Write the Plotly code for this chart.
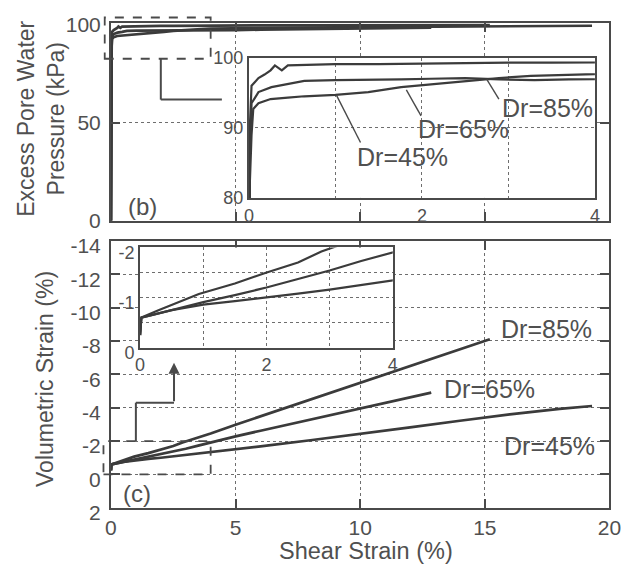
import plotly.graph_objects as go

# ---------------- data ----------------
series_names = ["Dr=45%", "Dr=65%", "Dr=85%"]

# (b) excess pore water pressure (kPa) against shear strain (%)
gamma_u_45 = [0, 0.003, 0.01, 0.03, 0.05, 0.11, 0.25, 0.45, 0.64, 1.0, 1.38, 1.76, 2.13,
              2.5, 2.89, 3.26, 3.63, 4.0, 5, 6, 8, 10, 12, 14, 16, 18, 19.3]
u_45 = [0, 55, 82, 89, 92.7, 93.5, 94.1, 94.3, 94.5, 94.7, 95.1, 95.8, 96.2,
        96.7, 97.1, 97.4, 97.6, 97.8, 98.0, 98.2, 98.4, 98.6, 98.8, 99.0, 99.1, 99.2, 99.3]

gamma_u_65 = [0, 0.003, 0.01, 0.03, 0.11, 0.26, 0.45, 0.64, 1.0, 1.4, 1.76, 2.1, 2.5,
              2.9, 3.3, 3.7, 4.0, 5, 6, 8, 10, 12.85]
u_65 = [0, 60, 86, 93.5, 95.1, 95.8, 96.2, 96.7, 96.8, 96.8, 96.9, 97.0, 97.1,
        96.9, 96.8, 96.9, 96.9, 97.1, 97.3, 97.6, 98.0, 98.3]

gamma_u_85 = [0, 0.003, 0.01, 0.03, 0.11, 0.18, 0.25, 0.3, 0.38, 0.45, 0.7, 1.0, 1.5,
              2.0, 2.5, 3.0, 3.5, 4.0, 5, 6, 8, 10, 12, 14, 15.2]
u_85 = [0, 65, 90, 96.0, 97.1, 97.6, 98.2, 98.9, 98.2, 98.9, 99.0, 99.1, 99.1,
        99.2, 99.2, 99.3, 99.3, 99.3, 99.4, 99.5, 99.5, 99.6, 99.6, 99.7, 99.7]

# (c) volumetric strain (%) against shear strain (%)
gamma_v_45 = [0, 0.02, 0.5, 1.0, 1.5, 2.0, 2.5, 3.0, 3.5, 4.0, 5, 6, 8, 10, 12, 14, 16, 18, 19.3]
ev_45 = [-0.25, -0.6, -0.75, -0.86, -0.93, -1.0, -1.08, -1.16, -1.25, -1.33, -1.5, -1.68,
         -2.05, -2.42, -2.82, -3.22, -3.6, -3.93, -4.1]

gamma_v_65 = [0, 0.02, 0.5, 1.0, 1.5, 2.0, 2.5, 3.0, 3.5, 4.0, 5, 6, 7, 8, 9, 10, 11, 12, 12.85]
ev_65 = [-0.25, -0.6, -0.75, -0.91, -1.05, -1.2, -1.37, -1.54, -1.73, -1.92, -2.28, -2.62,
         -2.95, -3.3, -3.63, -3.97, -4.3, -4.62, -4.9]

gamma_v_85 = [0, 0.02, 0.3, 0.6, 0.93, 1.5, 1.98, 2.5, 2.87, 3.5, 4, 5, 6, 7, 8, 9, 10, 11,
              12, 13, 14, 15.2]
ev_85 = [-0.25, -0.6, -0.75, -0.9, -1.07, -1.28, -1.49, -1.7, -1.92, -2.2, -2.45, -2.98,
         -3.48, -3.98, -4.48, -4.98, -5.48, -5.98, -6.48, -6.98, -7.48, -8.1]

# axis tick labels
u_ticks = [0, 50, 100]
ev_ticks = [2, 0, -2, -4, -6, -8, -10, -12, -14]
gamma_ticks = [0, 5, 10, 15, 20]
inset_gamma_ticks = [0, 1, 2, 3, 4]
inset_u_ticks = [80, 90, 100]
inset_ev_ticks = [0, -0.5, -1, -1.5, -2]

# ---------------- styling ----------------
W, H = 638, 582
INK = "#3b3b3b"
AXC = "#4a4a4a"
TXT = "#505050"
GRID = "#6e6e6e"
FONT = "Liberation Sans, Arial, Helvetica, sans-serif"


def px_dom_x(x0, x1):
    return [x0 / W, x1 / W]


def px_dom_y(top, bottom):
    return [1 - bottom / H, 1 - top / H]


X_MAIN = px_dom_x(108, 621)
Y_B = px_dom_y(13, 220)
Y_C = px_dom_y(241, 521)
X_IN_B = px_dom_x(250, 606)
Y_IN_B = px_dom_y(49, 196)
X_IN_C = px_dom_x(138, 398)
Y_IN_C = px_dom_y(248, 353)

GAMMA_RANGE = [0, 20]
U_RANGE = [0, 100.5]
EV_RANGE = [2, -14]


def label(v):
    return f"{v:g}"


fig = go.Figure()

series_u = [(gamma_u_45, u_45), (gamma_u_65, u_65), (gamma_u_85, u_85)]
series_v = [(gamma_v_45, ev_45), (gamma_v_65, ev_65), (gamma_v_85, ev_85)]

line_main = dict(color=INK, width=2.7)
line_inset = dict(color=INK, width=2.2)

for name, (gx, gy) in zip(series_names, series_u):
    fig.add_trace(go.Scatter(x=gx, y=gy, mode="lines", name=name, line=line_main,
                             xaxis="x", yaxis="y", showlegend=False))
for name, (gx, gy) in zip(series_names, series_v):
    fig.add_trace(go.Scatter(x=gx, y=gy, mode="lines", name=name, line=line_main,
                             xaxis="x2", yaxis="y2", showlegend=False))
for name, (gx, gy) in zip(series_names, series_u):
    fig.add_trace(go.Scatter(x=gx, y=gy, mode="lines", name=name, line=line_inset,
                             xaxis="x3", yaxis="y3", showlegend=False))
for name, (gx, gy) in zip(series_names, series_v):
    fig.add_trace(go.Scatter(x=gx, y=gy, mode="lines", name=name, line=line_inset,
                             xaxis="x4", yaxis="y4", showlegend=False))

axis_common = dict(
    showline=True, linecolor=AXC, linewidth=2, zeroline=False,
    showgrid=True, gridcolor=GRID, gridwidth=1.3, griddash="dot",
    tickfont=dict(family=FONT, size=21, color=TXT),
)
main_ticks = dict(ticks="inside", ticklen=9, tickwidth=2, tickcolor=AXC, mirror="ticks")
inset_common = dict(axis_common, mirror=True, ticks="",
                    tickfont=dict(family=FONT, size=18, color=TXT))

fig.update_layout(
    width=W, height=H, autosize=False,
    margin=dict(l=0, r=0, t=0, b=0),
    paper_bgcolor="white", plot_bgcolor="white",
    font=dict(family=FONT, color=TXT),
    xaxis=dict(axis_common, **main_ticks, domain=X_MAIN, anchor="y", range=GAMMA_RANGE,
               tickvals=gamma_ticks, showticklabels=False),
    yaxis=dict(axis_common, **main_ticks, domain=Y_B, anchor="x", range=U_RANGE,
               tickvals=u_ticks, ticktext=[label(v) for v in u_ticks], ticklabelstandoff=4),
    xaxis2=dict(axis_common, **main_ticks, domain=X_MAIN, anchor="y2", range=GAMMA_RANGE,
                tickvals=gamma_ticks, ticktext=[label(v) for v in gamma_ticks]),
    yaxis2=dict(axis_common, **main_ticks, domain=Y_C, anchor="x2", range=EV_RANGE,
                tickvals=ev_ticks, ticktext=[label(v) for v in ev_ticks], ticklabelstandoff=4,
                ticklabelshift=-5),
    xaxis3=dict(inset_common, domain=X_IN_B, anchor="y3", range=[0, 4],
                tickvals=inset_gamma_ticks,
                ticktext=[label(v) if v % 2 == 0 else "" for v in inset_gamma_ticks]),
    yaxis3=dict(inset_common, domain=Y_IN_B, anchor="x3", range=[80, 100],
                tickvals=inset_u_ticks, ticktext=[label(v) for v in inset_u_ticks]),
    xaxis4=dict(inset_common, domain=X_IN_C, anchor="y4", range=[0, 4],
                tickvals=inset_gamma_ticks,
                ticktext=[label(v) if v % 2 == 0 else "" for v in inset_gamma_ticks]),
    yaxis4=dict(inset_common, domain=Y_IN_C, anchor="x4", range=[0, -2],
                tickvals=inset_ev_ticks,
                ticktext=[label(v) if float(v).is_integer() else "" for v in inset_ev_ticks],
                ticklabelshift=-5),
)


# ---------- helpers: data value -> fraction of an axis domain ----------
def frac(v, rng):
    return (v - rng[0]) / (rng[1] - rng[0])


def seg(x0, y0, x1, y1, xr, yr, xrng, yrng, dash="solid", width=2):
    fig.add_shape(type="line", xref=xr, yref=yr,
                  x0=frac(x0, xrng), y0=frac(y0, yrng), x1=frac(x1, xrng), y1=frac(y1, yrng),
                  line=dict(color=AXC, width=width, dash=dash), layer="above")


def rect(x0, x1, y0, y1, xr, yr, xrng, yrng):
    fig.add_shape(type="rect", xref=xr, yref=yr,
                  x0=frac(x0, xrng), x1=frac(x1, xrng), y0=frac(y0, yrng), y1=frac(y1, yrng),
                  line=dict(color=AXC, width=1.8, dash="dash"), layer="above")


# zoom windows marked on the main panels
zoom_b = dict(x0=-0.25, x1=4.0, y0=82.5, y1=103.5)
zoom_c = dict(x0=-0.3, x1=4.0, y0=0.0, y1=-2.0)
rect(zoom_b["x0"], zoom_b["x1"], zoom_b["y0"], zoom_b["y1"], "x domain", "y domain",
     GAMMA_RANGE, U_RANGE)
rect(zoom_c["x0"], zoom_c["x1"], zoom_c["y0"], zoom_c["y1"], "x2 domain", "y2 domain",
     GAMMA_RANGE, EV_RANGE)

# connector from the (b) zoom window towards its inset
conn_b = [(2.0, zoom_b["y0"]), (2.0, 61.7), (4.45, 61.7)]
for (ax0, ay0), (ax1, ay1) in zip(conn_b[:-1], conn_b[1:]):
    seg(ax0, ay0, ax1, ay1, "x domain", "y domain", GAMMA_RANGE, U_RANGE)

# connector + arrow from the (c) zoom window to its inset
conn_c = [(1.0, zoom_c["y1"]), (1.0, -4.3), (2.53, -4.3)]
for (ax0, ay0), (ax1, ay1) in zip(conn_c[:-1], conn_c[1:]):
    seg(ax0, ay0, ax1, ay1, "x2 domain", "y2 domain", GAMMA_RANGE, EV_RANGE)
fig.add_annotation(x=2.53, y=-6.7, ax=2.53, ay=-4.3, xref="x2", yref="y2",
                   axref="x2", ayref="y2", text="", showarrow=True,
                   arrowhead=2, arrowsize=1.1, arrowwidth=2, arrowcolor=AXC)

# leader lines for the inset (b) labels
leaders_b = [((1.01, 94.7), (1.29, 87.9)), ((1.82, 95.4), (1.99, 91.7)),
             ((2.75, 96.9), (2.89, 94.1))]
for (p0, p1) in leaders_b:
    fig.add_shape(type="line", xref="x3", yref="y3", x0=p0[0], y0=p0[1], x1=p1[0], y1=p1[1],
                  line=dict(color=AXC, width=1.4))

lab_font = dict(family=FONT, size=25, color=TXT)
inset_b_pos = [(1.78, 85.9), (2.48, 89.9), (3.45, 92.8)]
for name, (lx, ly) in zip(series_names, inset_b_pos):
    fig.add_annotation(x=lx, y=ly, xref="x3", yref="y3", text=name, showarrow=False,
                       xanchor="center", yanchor="middle", font=lab_font)

main_c_pos = [(17.6, -1.71), (15.17, -5.1), (17.47, -8.74)]
for name, (lx, ly) in zip(series_names, main_c_pos):
    fig.add_annotation(x=lx, y=ly, xref="x2", yref="y2", text=name, showarrow=False,
                       xanchor="center", yanchor="middle", font=lab_font)


def paper_text(px, py, text, size, angle=0):
    fig.add_annotation(x=px / W, y=1 - py / H, xref="paper", yref="paper", text=text,
                       textangle=angle, showarrow=False, xanchor="center", yanchor="middle",
                       font=dict(family=FONT, size=size, color=TXT))


# panel tags and axis titles
paper_text(140, 205, "(b)", 24)
paper_text(135, 506, "(c)", 24)
paper_text(36, 113, "Excess Pore Water<br>Pressure (kPa)", 23, -90)
paper_text(40, 386, "Volumetric Strain (%)", 23, -90)
paper_text(370, 566, "Shear Strain (%)", 23.5)

fig.write_html("out.html")
